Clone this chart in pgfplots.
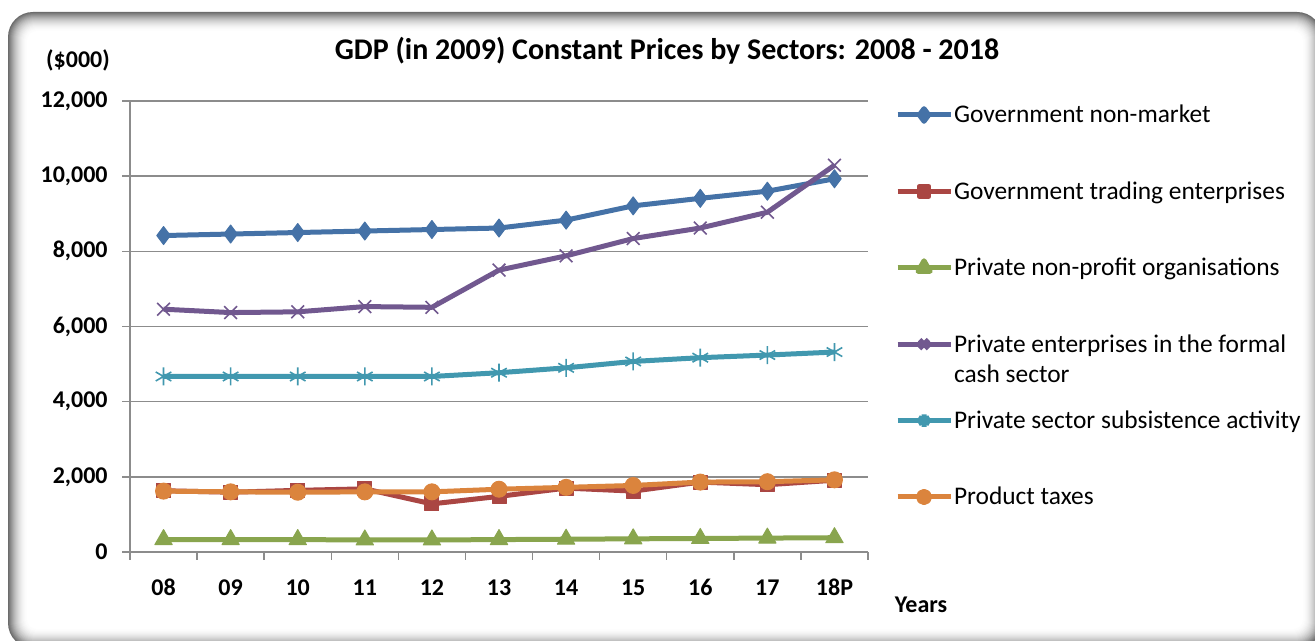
\documentclass[border=0pt]{standalone}
\usepackage{fontspec}
\setmainfont{Carlito}
\usepackage{pgfplots}
\pgfplotsset{compat=1.18}

\definecolor{cBlue}{HTML}{4572A7}
\definecolor{cRed}{HTML}{AA4643}
\definecolor{cGreen}{HTML}{89A54E}
\definecolor{cPurple}{HTML}{71588F}
\definecolor{cTeal}{HTML}{4198AF}
\definecolor{cOrange}{HTML}{DB843D}
\definecolor{cGrid}{HTML}{8C8C8C}

\begin{document}
\begin{tikzpicture}
\useasboundingbox (0,0) rectangle (657.5pt,320.5pt);
% shaded rounded frame
\begin{scope}
\clip (0,0) rectangle (657.5pt,320.5pt);
\foreach \i in {0,...,20}{
  \pgfmathsetmacro\c{58*(1-\i/20)^2}
  \pgfmathsetmacro\r{12.5-0.4*\i}
  \pgfmathsetmacro\xa{4+0.5*\i}
  \pgfmathsetmacro\ya{-3.5+0.5*\i}
  \pgfmathsetmacro\xb{661-0.5*\i}
  \pgfmathsetmacro\yb{314.5-0.5*\i}
  \fill[black!\c, rounded corners=\r pt] (\xa pt,\ya pt) rectangle (\xb pt,\yb pt);
}
\end{scope}

\node[font=\bfseries\fontsize{15}{18}\selectfont] at (333.5pt,295pt)
  {GDP (in 2009) Constant Prices by Sectors: 2008 - 2018};
\node[font=\bfseries\fontsize{12}{14}\selectfont] at (39pt,290.5pt) {(\$000)};
\node[font=\bfseries\fontsize{12}{14}\selectfont] at (460.5pt,18pt) {Years};

\begin{axis}[
    at={(65pt,44.5pt)}, anchor=south west,
    scale only axis,
    width=369pt, height=225.5pt,
    xmin=-0.5, xmax=10.5,
    ymin=0, ymax=12000,
    ytick={0,2000,...,12000},
    scaled y ticks=false,
    xtick={-0.5,0.5,...,10.5},
    x tick label as interval,
    xticklabels={08,09,10,11,12,13,14,15,16,17,18P},
    axis lines*=left,
    axis line style={cGrid, line width=0.75pt},
    tick align=outside,
    major tick length=4pt,
    tick style={cGrid, line width=0.75pt},
    ymajorgrids,
    grid style={cGrid, line width=0.75pt},
    ticklabel style={font=\bfseries\fontsize{12}{14}\selectfont},
    /pgf/number format/assume math mode=true,
    /pgf/number format/1000 sep={,},
    yticklabel style={inner sep=0pt, xshift=-7pt},
    xticklabel style={inner sep=0pt, yshift=-9pt, text height=8.5pt, text depth=0pt},
    every axis plot/.append style={line width=2.5pt, line join=round},
    legend image code/.code={
      \draw[mark repeat=2, mark phase=2, mark options={scale=0.7}]
        plot coordinates {(0pt,0pt) (13.25pt,0pt) (26.5pt,0pt)};},
    legend cell align=left,
    legend style={draw=none, fill=none, inner sep=0pt, outer sep=0pt,
      row sep=0pt, column sep=0.5pt,
      font=\fontsize{12.7}{15}\selectfont,
      at={(1.0366,1.0537)}, anchor=north west,
      nodes={inner sep=0pt, text height=23.1pt, text depth=15.1pt}},
]
\addplot[cBlue, mark=diamond*, mark size=4.5pt, mark options={solid, line width=0.5pt}]
  coordinates {(0,8420)(1,8460)(2,8500)(3,8540)(4,8580)(5,8620)(6,8830)(7,9210)(8,9410)(9,9600)(10,9930)};
\addlegendentry{Government non-market}
\addplot[cRed, mark=square*, mark size=3.5pt, mark options={solid, line width=0.5pt}]
  coordinates {(0,1630)(1,1590)(2,1640)(3,1680)(4,1280)(5,1480)(6,1700)(7,1620)(8,1860)(9,1790)(10,1910)};
\addlegendentry{Government trading enterprises}
\addplot[cGreen, mark=triangle*, mark size=5pt, mark options={solid, line width=0.5pt}]
  coordinates {(0,330)(1,330)(2,330)(3,320)(4,320)(5,330)(6,340)(7,350)(8,360)(9,370)(10,380)};
\addlegendentry{Private non-profit organisations}
\addplot[cPurple, mark=x, mark size=4.5pt, mark options={solid, line width=0.8pt}]
  coordinates {(0,6460)(1,6370)(2,6390)(3,6530)(4,6510)(5,7500)(6,7880)(7,8340)(8,8620)(9,9040)(10,10290)};
\addlegendentry{\raisebox{0pt}[\height][0pt]{\begin{tabular}[t]{@{}l@{}}Private enterprises in the formal\\cash sector\end{tabular}}}
\addplot[cTeal, mark=asterisk, mark size=4.5pt, mark options={solid, line width=0.8pt}]
  coordinates {(0,4670)(1,4670)(2,4670)(3,4670)(4,4670)(5,4770)(6,4900)(7,5070)(8,5170)(9,5240)(10,5320)};
\addlegendentry{Private sector subsistence activity}
\addplot[cOrange, mark=*, mark size=4pt, mark options={solid, line width=0.5pt}]
  coordinates {(0,1620)(1,1600)(2,1590)(3,1600)(4,1600)(5,1670)(6,1720)(7,1770)(8,1860)(9,1870)(10,1920)};
\addlegendentry{Product taxes}
\end{axis}
\end{tikzpicture}
\end{document}
